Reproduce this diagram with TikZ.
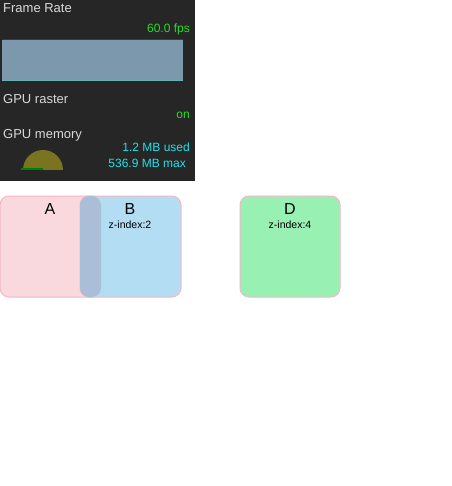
\documentclass[tikz,border=0pt]{standalone}
\usepackage{fontspec}
\setmainfont{Liberation Sans}
\definecolor{panel}{HTML}{262626}
\definecolor{bar}{HTML}{7B98AC}
\definecolor{fpsgreen}{HTML}{22E022}
\definecolor{memcyan}{HTML}{22E0E8}
\definecolor{gauge}{HTML}{7A7420}
\definecolor{boxA}{HTML}{F9D9DD}
\definecolor{boxB}{HTML}{B3DDF2}
\definecolor{boxD}{HTML}{98F1B3}
\definecolor{overlap}{HTML}{AABFD7}
\definecolor{pinkline}{HTML}{F7B6C4}
\begin{document}
\begin{tikzpicture}[x=1pt,y=-1pt,
  lbl/.style={inner sep=0pt,text=white!85!black,font=\fontsize{13}{13}\selectfont,anchor=west},
  val/.style={inner sep=0pt,font=\fontsize{12}{12}\selectfont,anchor=east},
  card/.style={draw=pinkline,line width=1pt,rounded corners=9pt},
  big/.style={inner sep=0pt,font=\fontsize{16}{16}\selectfont},
  small/.style={inner sep=0pt,font=\fontsize{10.5}{10.5}\selectfont}]
\useasboundingbox (0,0) rectangle (451,486);
\fill[white] (0,0) rectangle (451,486);
% monitor panel
\fill[panel] (0,0) rectangle (195,181);
\node[lbl] (fr) at (3,8) {Frame Rate};
\node[val,text=fpsgreen] (fps) at (190,29) {60.0 fps};
\fill[bar] (2,40) rectangle (183,80);
\draw[green!40!black,line width=1pt] (3,39.5) -- (183,39.5);
\draw[teal!60!white,line width=0.8pt] (2,80) -- (183,80);
\node[lbl] (gr) at (3,99) {GPU raster};
\node[val,text=fpsgreen] (on) at (190,115) {on};
\node[lbl] (gm) at (3,135) {GPU memory};
\node[val,text=memcyan] (used) at (190,147) {1.2 MB used};
\node[val,text=memcyan] (max) at (186,163) {536.9 MB max};
\fill[gauge] (23,170) arc[start angle=180,end angle=360,radius=20] -- cycle;
\draw[green!50!black,line width=2pt] (21,169) -- (43,169);
% boxes
\filldraw[card,fill=boxA] (0,196) rectangle (101,297);
\filldraw[card,fill=boxB] (80,196) rectangle (181,297);
\fill[overlap,rounded corners=9pt] (80,196) rectangle (101,297);
\filldraw[card,fill=boxD] (240,196) rectangle (340,297);
\node[big] (A) at (50,209) {A};
\node[big] (B) at (130,209) {B};
\node[small] (zb) at (130,225) {z-index:2};
\node[big] (D) at (290,209) {D};
\node[small] (zd) at (290,225) {z-index:4};
\end{tikzpicture}
\end{document}
